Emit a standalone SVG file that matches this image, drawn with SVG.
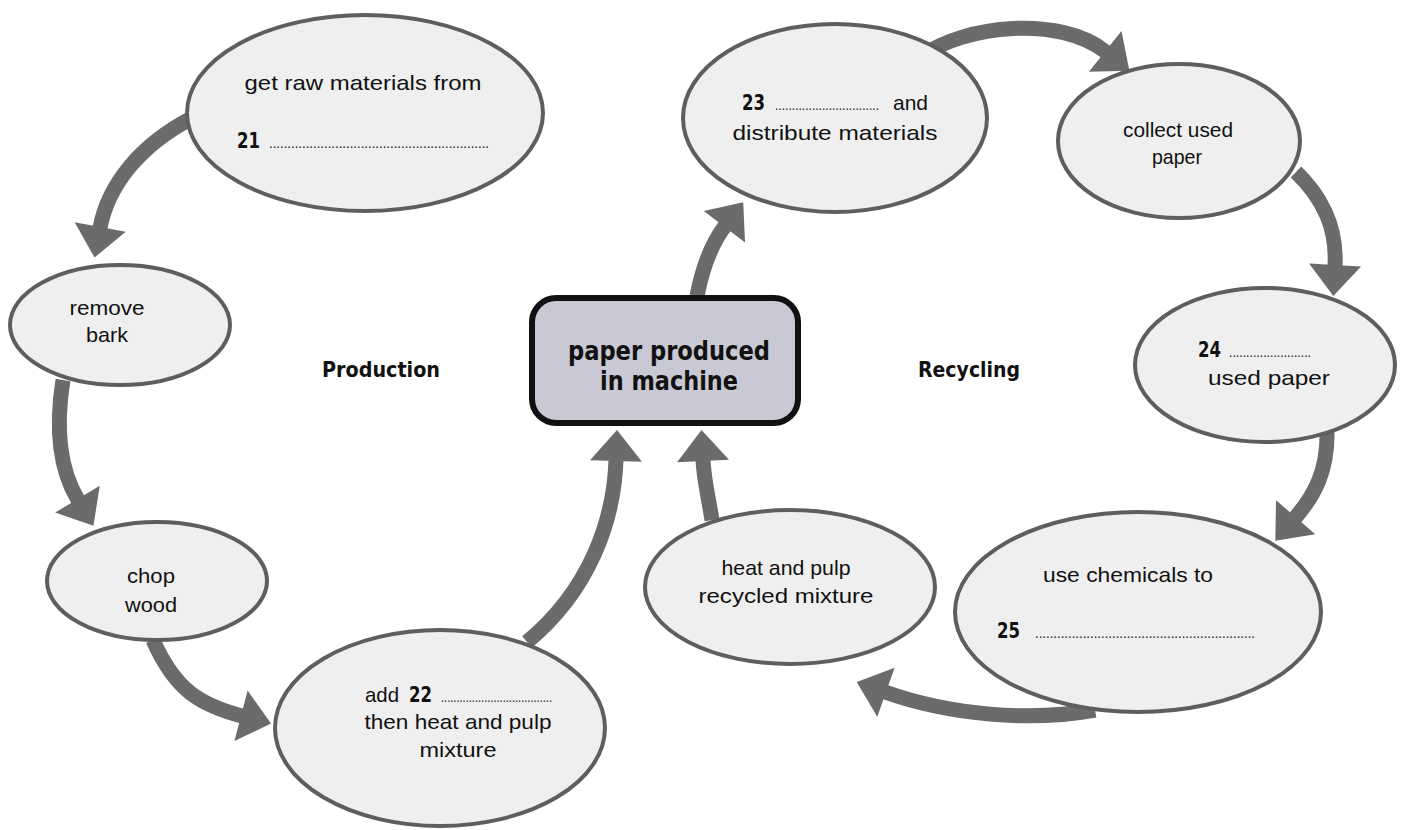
<svg xmlns="http://www.w3.org/2000/svg" width="1407" height="830" viewBox="0 0 1407 830">
<defs>
<marker id="ah" markerUnits="userSpaceOnUse" viewBox="0 -28 34 56" markerWidth="34" markerHeight="56" refX="1" refY="0" orient="auto" overflow="visible">
<path d="M0,-26 L31,0 L0,26 Z" fill="#6b6b6b"/>
</marker>
</defs>
<style>
.bg{fill:#ffffff}
.arr{fill:none;stroke:#6b6b6b;stroke-width:15;stroke-linecap:butt;marker-end:url(#ah)}
.el{fill:#efefef;stroke:#5e5e5e;stroke-width:4}
.t{font-family:"Liberation Sans","DejaVu Sans",sans-serif;font-size:21px;fill:#111;text-anchor:middle}
.tl{font-family:"Liberation Sans","DejaVu Sans",sans-serif;font-size:21px;fill:#111}
.b{font-family:"DejaVu Sans Condensed","Liberation Sans Narrow","DejaVu Sans",sans-serif;font-weight:bold;font-size:21px;fill:#111}
.d{font-family:"Liberation Sans",sans-serif;font-size:14px;fill:#111}
.hd{font-family:"DejaVu Sans Condensed","Liberation Sans Narrow","DejaVu Sans",sans-serif;font-weight:bold;font-size:22px;fill:#111;text-anchor:middle}
.box{fill:#c9c9d6;stroke:#111;stroke-width:6}
.bx{font-family:"DejaVu Sans Condensed","Liberation Sans Narrow","DejaVu Sans",sans-serif;font-weight:bold;font-size:27px;fill:#111;text-anchor:middle}
</style>
<rect class="bg" x="0" y="0" width="1407" height="830"/>
<g id="connectors">
<path class="arr" d="M192,118 C140,145 108,185 100,228"/>
<path class="arr" d="M63,380 C55,430 60,470 78,500"/>
<path class="arr" d="M153,640 C175,690 200,705 242,716"/>
<path class="arr" d="M527,642 C590,590 614,520 616,460"/>
<path class="arr" d="M712,520 C708,495 704,480 703,460"/>
<path class="arr" d="M697,296 C703,265 712,243 725,226"/>
<path class="arr" d="M922,56 C965,25 1060,15 1106,52"/>
<path class="arr" d="M1296,172 C1325,200 1337,230 1335,266"/>
<path class="arr" d="M1327,430 C1328,470 1315,495 1295,518"/>
<path class="arr" d="M1095,710 C1030,722 950,715 885,692"/>
</g>
<g id="n21">
<ellipse class="el" cx="365" cy="113" rx="178" ry="98"/>
<text class="t" x="363" y="90" textLength="237" lengthAdjust="spacingAndGlyphs">get raw materials from</text>
<text class="b" x="237" y="148" textLength="23" lengthAdjust="spacingAndGlyphs">21</text>
<text class="d" x="269" y="148" textLength="220" lengthAdjust="spacingAndGlyphs">............................................................</text>
</g>
<g id="nbark">
<ellipse class="el" cx="120" cy="325" rx="110" ry="60"/>
<text class="t" x="107" y="315" textLength="75" lengthAdjust="spacingAndGlyphs">remove</text>
<text class="t" x="107" y="342" textLength="42" lengthAdjust="spacingAndGlyphs">bark</text>
</g>
<g id="nchop">
<ellipse class="el" cx="157" cy="581" rx="110" ry="59"/>
<text class="t" x="151" y="583" textLength="48" lengthAdjust="spacingAndGlyphs">chop</text>
<text class="t" x="151" y="612" textLength="52" lengthAdjust="spacingAndGlyphs">wood</text>
</g>
<g id="n22">
<ellipse class="el" cx="440" cy="728" rx="165" ry="98"/>
<text class="tl" x="365" y="702" textLength="34" lengthAdjust="spacingAndGlyphs">add</text>
<text class="b" x="409" y="702" textLength="23" lengthAdjust="spacingAndGlyphs">22</text>
<text class="d" x="441" y="702" textLength="111" lengthAdjust="spacingAndGlyphs">....................................</text>
<text class="t" x="458" y="729" textLength="187" lengthAdjust="spacingAndGlyphs">then heat and pulp</text>
<text class="t" x="458" y="757" textLength="77" lengthAdjust="spacingAndGlyphs">mixture</text>
</g>
<g id="n23">
<ellipse class="el" cx="835" cy="118" rx="152" ry="94"/>
<text class="b" x="742" y="110" textLength="23" lengthAdjust="spacingAndGlyphs">23</text>
<text class="d" x="775" y="110" textLength="104" lengthAdjust="spacingAndGlyphs">...............................</text>
<text class="tl" x="893" y="110" textLength="35" lengthAdjust="spacingAndGlyphs">and</text>
<text class="t" x="835" y="140" textLength="205" lengthAdjust="spacingAndGlyphs">distribute materials</text>
</g>
<g id="ncollect">
<ellipse class="el" cx="1179" cy="141" rx="121" ry="77"/>
<text class="t" x="1178" y="137" textLength="110" lengthAdjust="spacingAndGlyphs">collect used</text>
<text class="t" x="1177" y="164" textLength="50" lengthAdjust="spacingAndGlyphs">paper</text>
</g>
<g id="n24">
<ellipse class="el" cx="1265" cy="365" rx="130" ry="77"/>
<text class="b" x="1198" y="357" textLength="23" lengthAdjust="spacingAndGlyphs">24</text>
<text class="d" x="1229" y="357" textLength="82" lengthAdjust="spacingAndGlyphs">........................</text>
<text class="t" x="1269" y="385" textLength="122" lengthAdjust="spacingAndGlyphs">used paper</text>
</g>
<g id="n25">
<ellipse class="el" cx="1138" cy="612" rx="183" ry="100"/>
<text class="t" x="1128" y="582" textLength="170" lengthAdjust="spacingAndGlyphs">use chemicals to</text>
<text class="b" x="997" y="638" textLength="23" lengthAdjust="spacingAndGlyphs">25</text>
<text class="d" x="1035" y="638" textLength="220" lengthAdjust="spacingAndGlyphs">............................................................</text>
</g>
<g id="nheat">
<ellipse class="el" cx="790" cy="587" rx="145" ry="77"/>
<text class="t" x="786" y="575" textLength="129" lengthAdjust="spacingAndGlyphs">heat and pulp</text>
<text class="t" x="786" y="603" textLength="175" lengthAdjust="spacingAndGlyphs">recycled mixture</text>
</g>
<g id="nmachine">
<rect class="box" x="532" y="298" width="266" height="125" rx="24"/>
<text class="bx" x="669" y="360" textLength="202" lengthAdjust="spacingAndGlyphs">paper produced</text>
<text class="bx" x="669" y="390" textLength="138" lengthAdjust="spacingAndGlyphs">in machine</text>
</g>
<g id="labels">
<text class="hd" x="381" y="377" textLength="118" lengthAdjust="spacingAndGlyphs">Production</text>
<text class="hd" x="969" y="377" textLength="102" lengthAdjust="spacingAndGlyphs">Recycling</text>
</g>
</svg>
